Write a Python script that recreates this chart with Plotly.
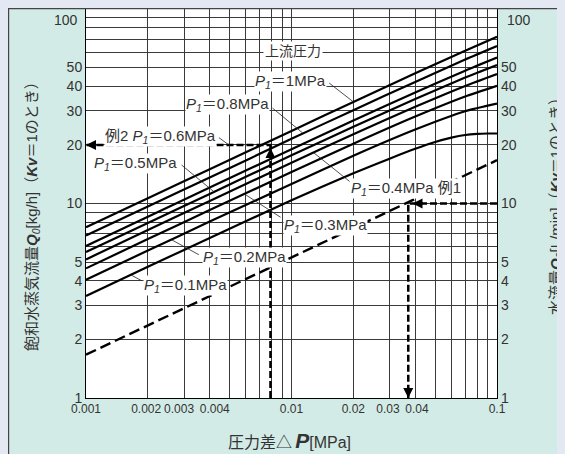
import numpy as np
import plotly.graph_objects as go

# ---------------- data ----------------
DP = [0.001, 0.002, 0.004, 0.01, 0.02, 0.04, 0.07, 0.1]          # ΔP [MPa]
Q_P1_10 = [7.55, 10.65, 15.0, 23.6, 33.3, 46.7, 61.0, 72.0]       # P1 = 1 MPa
Q_P0_8 = [6.85, 9.65, 13.6, 21.5, 30.2, 42.2, 55.0, 64.5]         # P1 = 0.8 MPa
Q_P0_6 = [6.05, 8.55, 12.1, 19.0, 26.7, 37.2, 48.2, 56.3]         # P1 = 0.6 MPa
Q_P0_5 = [5.63, 7.95, 11.2, 17.7, 24.8, 34.5, 44.4, 51.5]         # P1 = 0.5 MPa
Q_P0_4 = [5.16, 7.3, 10.3, 16.2, 22.7, 31.4, 40.2, 46.3]          # P1 = 0.4 MPa
Q_P0_3 = [4.64, 6.56, 9.25, 14.5, 20.3, 28.0, 35.5, 40.3]         # P1 = 0.3 MPa
Q_P0_2 = [4.06, 5.73, 8.07, 12.6, 17.6, 24.0, 29.8, 32.6]         # P1 = 0.2 MPa
DP_P0_1 = [0.001, 0.002, 0.004, 0.01, 0.02, 0.03, 0.04, 0.05, 0.06, 0.07, 0.08, 0.09, 0.1]
Q_P0_1 = [3.35, 4.73, 6.65, 10.4, 14.3, 17.0, 19.1, 20.7, 21.8, 22.5, 22.8, 22.9, 22.9]
DP_WATER = [0.001, 0.002, 0.004, 0.01, 0.02, 0.04, 0.1]
Q_WATER = [1.67, 2.36, 3.33, 5.27, 7.45, 10.5, 16.7]               # 水流量 [L/min]

# examples
EX2_DP = [0.0079, 0.0079, 0.001]
EX2_Q = [1, 20, 20]
EX1_DP = [0.1, 0.037, 0.037]
EX1_Q = [10, 10, 1]

X_TICKS = [d * 10.0 ** e for e in (-3, -2) for d in range(1, 10)] + [0.1]
NB = "\u00a0"
X_LABELED = {0.001: "0.001", 0.002: "0.002" + NB, 0.003: "0.003" + NB * 3,
             0.004: NB * 3 + "0.004", 0.01: "0.01", 0.02: "0.02",
             0.03: "0.03" + NB, 0.04: NB + "0.04", 0.1: "0.1"}
Y_TICKS = [d * 10 ** e for e in (0, 1) for d in range(1, 10)] + [100]
Y_LABELED = {1: "1", 2: "2", 3: "3", 4: "4", 5: "5", 10: "10", 20: "20",
             30: "30", 40: "40", 50: "50"}

STEAM = [
    ("1", DP, Q_P1_10), ("0.8", DP, Q_P0_8), ("0.6", DP, Q_P0_6),
    ("0.5", DP, Q_P0_5), ("0.4", DP, Q_P0_4), ("0.3", DP, Q_P0_3),
    ("0.2", DP, Q_P0_2), ("0.1", DP_P0_1, Q_P0_1),
]

# ---------------- styles ----------------
PAPER = "#d3ebe6"
OUTER = "#e4e8f3"
GRID = "#3a3a3a"
TXT = "#333333"
JP = "Liberation Sans, Noto Sans CJK JP, sans-serif"
L = np.log10


def on_curve(dps, qs, dp):
    return 10 ** np.interp(L(dp), L(dps), L(qs))


fig = go.Figure()

for name, dps, qs in STEAM:
    fig.add_trace(go.Scatter(x=dps, y=qs, mode="lines", name=f"P1={name}MPa",
                             line=dict(color="black", width=2.2, shape="spline", smoothing=0.6),
                             hoverinfo="skip"))

fig.add_trace(go.Scatter(x=DP_WATER, y=Q_WATER, mode="lines", yaxis="y2", name="water",
                         line=dict(color="black", width=2.4, dash="11px,5px"), hoverinfo="skip"))
fig.add_trace(go.Scatter(x=EX2_DP, y=EX2_Q, mode="lines", name="例2",
                         line=dict(color="black", width=2.5, dash="7px,3px"), hoverinfo="skip"))
fig.add_trace(go.Scatter(x=EX1_DP, y=EX1_Q, mode="lines", yaxis="y2", name="例1",
                         line=dict(color="black", width=2.5, dash="7px,3px"), hoverinfo="skip"))

ann = []
curves = {n: (d, q) for n, d, q in STEAM}

# leader lines: (curve, target ΔP, start ΔP, start Q)
leaders = [
    ("1", 0.02, 0.0150, 42.2),
    ("0.8", 0.0114, 0.00795, 31.4),
    ("0.5", 0.0042, 0.00287, 16.0),
    ("0.4", 0.0128, 0.0195, 12.8),
    ("0.3", 0.0059, 0.0090, 8.4),
    ("0.2", 0.0026, 0.0036, 5.4),
    ("0.1", 0.00165, 0.00189, 3.98),
]
for n, dpt, dps_, qs_ in leaders:
    d, q = curves[n]
    ann.append(dict(x=L(dpt), y=L(on_curve(d, q, dpt)), ax=L(dps_), ay=L(qs_),
                    axref="x", ayref="y", xref="x", yref="y", text="", showarrow=True,
                    arrowhead=0, arrowwidth=0.8, arrowcolor="#222"))
# 0.6 leader to the example line
ann.append(dict(x=L(0.00502), y=L(19.8), ax=L(0.00436), ay=L(22.1), axref="x", ayref="y",
                xref="x", yref="y", text="", showarrow=True, arrowhead=0,
                arrowwidth=0.8, arrowcolor="#222"))

P1 = "<i>P</i><sub><i>1</i></sub>＝"
labels = [
    (P1 + "1MPa", 0.0149, 42.2, "right"),
    (P1 + "0.8MPa", 0.00786, 32.2, "right"),
    ("例2 " + P1 + "0.6MPa", 0.00434, 22.1, "right"),
    (P1 + "0.5MPa", 0.0028, 16.0, "right"),
    (P1 + "0.4MPa 例1", 0.0193, 11.9, "left"),
    (P1 + "0.3MPa", 0.0091, 7.71, "left"),
    (P1 + "0.2MPa", 0.00367, 5.28, "left"),
    (P1 + "0.1MPa", 0.00189, 3.78, "left"),
]
for t, dp, q, anc in labels:
    ann.append(dict(x=L(dp), y=L(q), xref="x", yref="y", text=t, showarrow=False,
                    xanchor=anc, yanchor="middle", bgcolor="white", borderpad=0,
                    font=dict(family=JP, size=15, color=TXT)))
ann.append(dict(x=L(0.0102), y=L(60.5), xref="x", yref="y", text="上流圧力", showarrow=False,
                xanchor="center", yanchor="middle", bgcolor="white", borderpad=1,
                font=dict(family=JP, size=14, color=TXT)))

# example arrowheads
arrow = dict(showarrow=True, arrowhead=2, arrowsize=1, arrowwidth=2, arrowcolor="black",
             text="", xref="x", yref="y")
ann.append(dict(arrow, x=L(EX2_DP[2]), y=L(EX2_Q[2]), ax=12, ay=0))
ann.append(dict(arrow, x=L(EX2_DP[1]), y=L(19.3), ax=0, ay=12))
ann.append(dict(arrow, x=L(0.0388), y=L(EX1_Q[0]), ax=12, ay=0, yref="y2"))
ann.append(dict(arrow, x=L(EX1_DP[2]), y=L(EX1_Q[2]), ax=0, ay=-12, yref="y2"))

# figure geometry (page body adds an 8px offset; right/bottom run past the window)
W, H = 565, 454
ML, MR, MT, MB = 78, 76, 1, 64
pw, ph = W - ML - MR, H - MT - MB


def px(xpix):
    return (xpix - ML) / pw


def py(ypix):
    return (H - MB - ypix) / ph


# axis titles
ann.append(dict(xref="paper", yref="paper", x=px(24), y=py(205), textangle=-90, showarrow=False,
                xanchor="center", yanchor="middle",
                text="飽和水蒸気流量<b><i>Q</i></b><sub><i>0</i></sub>[kg/h]（<b><i>Kv</i></b>＝1のとき）",
                font=dict(family=JP, size=15, color=TXT)))
ann.append(dict(xref="paper", yref="paper", x=px(548), y=py(195), textangle=-90, showarrow=False,
                xanchor="center", yanchor="middle",
                text="水流量<b><i>Q</i></b><sub><i>0</i></sub>[L/min]（<b><i>Kv</i></b>＝1のとき）",
                font=dict(family=JP, size=15, color=TXT)))
ann.append(dict(xref="paper", yref="paper", x=px(281), y=py(432), showarrow=False,
                xanchor="center", yanchor="middle",
                text="圧力差△\u2009<span style=\"font-size:21px\"><b><i>P</i></b></span>[MPa]",
                font=dict(family=JP, size=16, color=TXT)))
# top "100" labels (placed just inside the frame)
for xp, anc, sh in ((0, "right", -6), (1, "left", 8)):
    ann.append(dict(xref="paper", yref="paper", x=xp, y=1, xanchor=anc, yanchor="top",
                    xshift=sh, yshift=-1, text="100", showarrow=False,
                    font=dict(family="Liberation Sans", size=14, color=TXT)))

shapes = [
    dict(type="line", xref="paper", yref="paper", x0=px(0.6), x1=px(0.6), y0=py(0), y1=py(H + 2),
         line=dict(color="#444", width=1.2)),
    dict(type="line", xref="paper", yref="paper", x0=px(0), x1=px(W + 2), y0=py(0.6), y1=py(0.6),
         line=dict(color="#444", width=1.2)),
]

ytext = [Y_LABELED.get(v, "") for v in Y_TICKS]
fig.update_layout(
    width=W, height=H, margin=dict(l=ML, r=MR, t=MT, b=MB, autoexpand=False),
    paper_bgcolor=PAPER, plot_bgcolor="white", showlegend=False,
    annotations=ann, shapes=shapes,
    xaxis=dict(type="log", range=[-3, -1], tickvals=X_TICKS,
               ticktext=[X_LABELED.get(round(v, 6), "") for v in X_TICKS], tickangle=0,
               showgrid=True, gridcolor=GRID, gridwidth=1, ticks="",
               showline=True, linecolor="black", linewidth=1, mirror=True,
               tickfont=dict(family="Liberation Sans", size=12, color=TXT),
               zeroline=False),
    yaxis=dict(type="log", range=[0, 2], tickvals=Y_TICKS, ticktext=ytext,
               showgrid=True, gridcolor=GRID, gridwidth=1, ticks="",
               showline=True, linecolor="black", linewidth=1, mirror=True,
               tickfont=dict(family="Liberation Sans", size=14, color=TXT), zeroline=False),
    yaxis2=dict(type="log", range=[0, 2], overlaying="y", side="right", tickvals=Y_TICKS,
                ticktext=ytext, showgrid=False, ticks="", ticklabelstandoff=3,
                tickfont=dict(family="Liberation Sans", size=14, color=TXT), zeroline=False),
)

fig.write_html(
    "out.html",
    post_script=("document.documentElement.style.background='%s';"
                 "document.body.style.background='%s';" % (OUTER, OUTER)),
)
